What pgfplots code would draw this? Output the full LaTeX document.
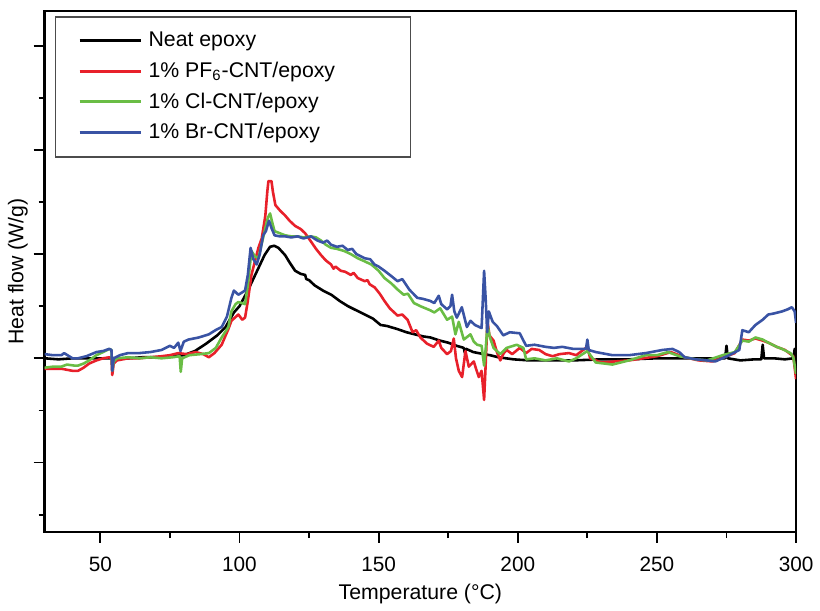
\documentclass[border=0pt]{standalone}
\usepackage{fontspec}
\setmainfont{Liberation Sans}
\usepackage{pgfplots}
\pgfplotsset{compat=1.18}
\definecolor{cblack}{RGB}{0,0,0}
\definecolor{cred}{RGB}{232,32,42}
\definecolor{cgreen}{RGB}{106,189,69}
\definecolor{cblue}{RGB}{57,83,164}
\newcommand{\fs}{\fontsize{10.75}{12.5}\selectfont}
\newcommand{\ft}{\fontsize{10.5}{12}\selectfont}
\begin{document}
\begin{tikzpicture}
\begin{axis}[
  at={(0,0)}, anchor=south west,
  scale only axis,
  width=378.5bp, height=262.5bp,
  xmin=30, xmax=300, ymin=-1.667, ymax=3.333,
  xtick={50,100,150,200,250,300},
  minor xtick={75,125,175,225,275},
  ytick={-1,0,1,2,3},
  minor ytick={-1.5,-0.5,0.5,1.5,2.5},
  yticklabels={},
  xtick pos=left, ytick pos=left,
  tick align=outside,
  major tick length=5.5bp, minor tick length=3bp,
  every tick/.style={black, line width=0.9bp},
  axis line style={line width=1.2bp},
  /pgf/number format/assume math mode=true,
  ticklabel style={font=\ft},
  xticklabel style={yshift=-3.5bp},
  xlabel={Temperature (°C)},
  ylabel={Heat flow (W/g)},
  label style={font=\fs},
  xlabel style={at={(axis description cs:0.5,-0.118)}, anchor=center},
  ylabel style={at={(axis description cs:-0.0357,0.5)}, anchor=center},
  legend style={at={(rel axis cs:0.0132,0.990)}, anchor=north west,
    draw=black!70, line width=0.75bp, font=\fs, inner xsep=11.5bp, inner ysep=5.5bp,
    row sep=2.3bp, cells={anchor=west}},
  legend cell align=left,
  legend image code/.code={\draw[#1, line width=1.5bp] (0bp,0bp) -- (31bp,0bp);},
  every axis plot/.append style={line width=1.3bp, line join=round},
]
\addplot[cblack] coordinates {
(30,0.0) (35,-0.01) (40,0.0) (45,0.0) (50,0.0) (55,0.0) (60,0.0) (65,0.01) (70,0.01) (75,0.02) (80,0.03) (84,0.07) (88,0.14) (92,0.22) (95,0.3) (98,0.44) (100,0.5) (103,0.65) (106,0.82) (109,0.99) (111,1.07) (112.5,1.08) (114,1.06) (116.4,0.99) (118,0.92) (120,0.84) (122,0.81) (123.6,0.80) (124,0.76) (125,0.75) (127,0.70) (130,0.65) (133,0.61) (136,0.55) (139,0.50) (142,0.46) (145,0.42) (148,0.38) (150.7,0.32) (153,0.31) (156.8,0.28) (160,0.25) (163,0.23) (166,0.21) (168.6,0.20) (172,0.17) (175,0.15) (178,0.12) (180.6,0.10) (181,0.05) (181.5,0.09) (184,0.06) (187.8,0.04) (190,0.03) (193,0.01) (198.5,-0.01) (204,-0.02) (210,-0.02) (220,-0.02) (230,-0.01) (240,-0.01) (250,0.0) (260,0.0) (270,0.0) (274.5,0.0) (275,0.12) (275.5,0.0) (280,-0.02) (285,-0.01) (287.5,-0.01) (288,0.13) (288.5,0.0) (292,0.0) (296,-0.01) (299,0.0) (299.5,0.09) (300,0.05)
};
\addlegendentry{\makebox[119.5bp][l]{\hspace{1bp}Neat epoxy}}
\addplot[cred] coordinates {
(30,-0.10) (33,-0.10) (36,-0.10) (38,-0.11) (40,-0.12) (42,-0.12) (44,-0.09) (46,-0.05) (48.6,-0.02) (51,0.0) (53.2,0.01) (54,0.0) (54.3,-0.16) (54.8,-0.05) (56,-0.02) (60,0.0) (64,0.0) (68,0.01) (72,0.02) (75,0.03) (78,0.05) (81,0.04) (84.3,0.06) (87,0.04) (89,0.01) (91,0.05) (93.6,0.13) (96,0.28) (97.1,0.36) (99.6,0.42) (101,0.37) (102,0.39) (103,0.55) (104.3,0.8) (106.8,1.06) (108,1.15) (109.3,1.37) (110,1.6) (110.4,1.70) (111.5,1.70) (112,1.6) (112.9,1.47) (114.5,1.42) (116.4,1.37) (118,1.32) (120,1.27) (122,1.24) (123.6,1.20) (125.7,1.12) (127.5,1.05) (129.3,0.99) (131,0.94) (132.9,0.90) (133.8,0.86) (134.5,0.88) (136.4,0.84) (138,0.83) (140,0.80) (141,0.82) (142.5,0.77) (145,0.74) (146,0.75) (146.8,0.71) (148.6,0.68) (150.4,0.62) (152.1,0.55) (154,0.48) (156.8,0.41) (158.5,0.42) (160.4,0.37) (162.2,0.25) (163.5,0.27) (165,0.20) (167.4,0.14) (169.8,0.11) (171.6,0.17) (172.5,0.10) (174.6,0.04) (176,0.07) (177,0.19) (177.8,0.0) (178.8,-0.12) (180,-0.18) (181.2,0.07) (182.4,-0.08) (184.2,-0.03) (185,-0.10) (186,-0.18) (187,-0.12) (187.9,-0.40) (188.4,-0.1) (189.1,0.36) (189.8,0.22) (191.3,0.17) (192.5,0.06) (193.7,-0.02) (195,0.05) (196,0.08) (198,0.04) (200.7,0.10) (203,0.05) (205,0.09) (207.7,0.08) (210,0.04) (212.5,0.02) (215,0.04) (218.4,0.05) (221,0.03) (223,0.07) (225,0.11) (226,0.0) (230,-0.04) (235,-0.03) (240,-0.02) (245,0.0) (250,0.02) (255,0.06) (260,0.01) (265,-0.02) (270,-0.03) (275,0.02) (278,0.05) (280.7,0.18) (283,0.17) (285.4,0.19) (288,0.17) (290,0.15) (293,0.11) (296,0.08) (299,0.02) (300,-0.2)
};
\addlegendentry{\makebox[119.5bp][l]{\hspace{1bp}1\% PF\textsubscript{6}-CNT/epoxy}}
\addplot[cgreen] coordinates {
(30,-0.09) (33,-0.08) (36,-0.08) (38,-0.06) (40.7,-0.07) (42,-0.07) (44,-0.05) (46,-0.02) (48.6,0.03) (51,0.06) (53.2,0.09) (54,0.08) (54.3,-0.12) (54.8,-0.03) (56,0.0) (60,0.01) (64,0.0) (68,0.01) (72,0.0) (76,0.01) (78.5,0.02) (78.9,-0.13) (79.4,0.0) (82,0.03) (86,0.04) (89,0.05) (91.5,0.1) (93.6,0.2) (96,0.3) (97.1,0.45) (98.6,0.52) (99.6,0.54) (102,0.52) (103,0.7) (104.3,1.03) (105.5,0.98) (106.8,0.96) (108,1.1) (109.3,1.25) (110.2,1.35) (111,1.39) (111.8,1.3) (112.6,1.22) (114.5,1.20) (116.4,1.18) (118.6,1.17) (120.9,1.17) (123,1.16) (125.7,1.17) (127.5,1.16) (129.3,1.13) (131,1.09) (132.9,1.06) (135,1.05) (137.6,1.03) (140,1.0) (142.5,0.96) (145,0.93) (147.4,0.90) (150,0.84) (152.1,0.77) (154.5,0.72) (156.8,0.66) (159,0.61) (160.5,0.62) (162.7,0.53) (165,0.50) (168.6,0.46) (170,0.44) (172.1,0.48) (174.6,0.37) (176.4,0.40) (177.6,0.23) (178.8,0.35) (180.6,0.18) (183,0.23) (184.2,0.16) (185.4,0.13) (187,0.12) (187.9,-0.07) (188.5,0.1) (189.1,0.32) (190,0.2) (191.3,0.10) (193.7,0.04) (196,0.10) (199.6,0.13) (202,0.10) (203,-0.01) (206,0.0) (210,-0.02) (214,0.0) (218.4,-0.03) (221,0.0) (225,0.07) (228,-0.04) (234,-0.06) (240,-0.02) (246,0.03) (250,0.03) (254,0.06) (258,0.02) (264,-0.01) (268,-0.02) (273.6,0.03) (278,0.06) (280.7,0.17) (283,0.16) (285.4,0.2) (288,0.18) (290,0.15) (293,0.11) (295,0.09) (298,0.05) (299,0.01) (300,-0.15)
};
\addlegendentry{\makebox[119.5bp][l]{\hspace{1bp}1\% Cl-CNT/epoxy}}
\addplot[cblue] coordinates {
(30,0.04) (33,0.03) (36,0.03) (37,0.05) (40,0.0) (42,0.0) (45,0.02) (48.6,0.06) (51,0.07) (53.2,0.09) (54,0.08) (54.3,-0.12) (54.8,0.0) (57,0.03) (60,0.05) (64,0.05) (68,0.06) (72,0.08) (75,0.12) (76.5,0.10) (78,0.15) (78.8,0.07) (80,0.16) (81.7,0.18) (85.4,0.20) (89,0.23) (91.4,0.27) (93.6,0.30) (95.5,0.40) (97.1,0.58) (98,0.65) (99.6,0.61) (102,0.65) (103,0.8) (104,1.06) (105,0.95) (106.2,0.90) (107.3,1.0) (108.5,1.18) (109.5,1.22) (110.6,1.32) (111.5,1.25) (112.6,1.18) (114.5,1.17) (116.4,1.17) (118.6,1.16) (120.9,1.17) (123,1.15) (125.7,1.17) (128,1.13) (130,1.11) (131.5,1.13) (132.9,1.09) (135,1.07) (137,1.08) (138.9,1.04) (140.5,1.05) (142,1.0) (145,0.96) (147,0.95) (148.5,0.90) (150,0.88) (152.1,0.84) (154.5,0.79) (156.8,0.74) (158.5,0.76) (161,0.66) (163.9,0.58) (166,0.57) (168.6,0.55) (170,0.53) (171.6,0.60) (172.5,0.52) (174.6,0.47) (175.8,0.50) (176.4,0.61) (177.2,0.45) (178.1,0.39) (179.9,0.49) (181.7,0.30) (183,0.36) (184.6,0.32) (187,0.29) (187.9,0.84) (188.5,0.55) (189,0.25) (189.6,0.45) (190,0.42) (191,0.35) (192.5,0.31) (194.8,0.22) (197.1,0.25) (200.7,0.24) (203,0.12) (206,0.13) (210,0.11) (213,0.10) (216,0.11) (220,0.09) (224.5,0.09) (225,0.18) (225.5,0.08) (228,0.06) (234,0.03) (240,0.03) (246,0.05) (252,0.08) (255.6,0.09) (258,0.06) (260,0.01) (264,-0.01) (268,-0.02) (271,-0.03) (276,0.03) (279.6,0.08) (280.7,0.27) (283,0.25) (285.4,0.32) (288,0.37) (290,0.42) (292,0.43) (295,0.45) (297,0.47) (298.5,0.49) (299.5,0.45) (300,0.34)
};
\addlegendentry{\makebox[119.5bp][l]{\hspace{1bp}1\% Br-CNT/epoxy}}
\end{axis}
\path[use as bounding box] (-22.5bp,-36.5bp) rectangle (387.5bp,268bp);
\end{tikzpicture}
\end{document}
